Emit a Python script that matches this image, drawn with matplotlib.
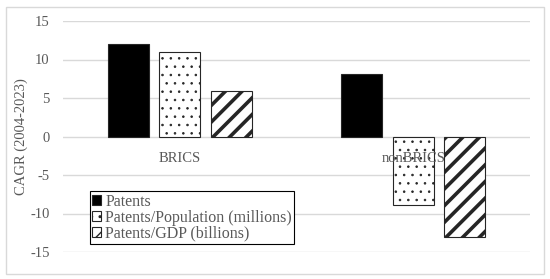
import numpy as np
import matplotlib
matplotlib.use('Agg')
import matplotlib.pyplot as plt
from matplotlib.patches import Rectangle

categories = ['BRICS', 'nonBRICS']
patents = [12.0, 8.1]
patents_pop = [11.0, -8.9]
patents_gdp = [5.9, -13.1]
series_names = ['Patents', 'Patents/Population (millions)', 'Patents/GDP (billions)']

plt.rcParams['font.family'] = ['Liberation Serif', 'DejaVu Serif']
plt.rcParams['axes.unicode_minus'] = False

grey = '#595959'
fig = plt.figure(figsize=(5.5, 2.79), dpi=100)
ax = fig.add_axes([63/550, 1-252/279, 467/550, 231/279])

x = np.arange(len(categories))
w = 0.175
b1 = ax.bar(x - 0.22, patents, w, color='black', edgecolor='#262626', lw=0.8, label=series_names[0])
b2 = ax.bar(x, patents_pop, w, color='white', edgecolor='#262626', lw=0.8, hatch='..', label=series_names[1])
b3 = ax.bar(x + 0.22, patents_gdp, w, color='white', edgecolor='#262626', lw=0.8, hatch='//', label=series_names[2])
for bars, hlw in [(b2, 0.6), (b3, 2.6)]:
    for p in bars:
        if hasattr(p, 'set_hatch_linewidth'):
            p.set_hatch_linewidth(hlw)

ax.set_xlim(-0.5, 1.5)
ax.set_ylim(-15, 15)
ax.set_yticks(np.arange(-15, 16, 5))
ax.set_xticks([])
ax.yaxis.grid(True, color='#d9d9d9', lw=1)
ax.set_axisbelow(True)
ax.tick_params(axis='y', length=0, pad=9.5, labelsize=10.5, labelcolor=grey)
for s in ax.spines.values():
    s.set_visible(False)

for xi, name in zip(x, categories):
    ax.annotate(name, (xi, 0), xytext=(0, -15.5), textcoords='offset points',
                ha='center', va='center', fontsize=10.5, color=grey, zorder=5)

ax.set_ylabel('CAGR (2004-2023)', fontsize=10.5, color=grey, labelpad=1.5)

leg = ax.legend(loc='lower left', bbox_to_anchor=(0.058, 0.035), borderaxespad=0,
                fancybox=False, edgecolor='black', framealpha=1, fontsize=11.5,
                handlelength=0.55, handleheight=0.55, handletextpad=0.25,
                labelspacing=0.0, borderpad=0.15)
leg.get_frame().set_linewidth(0.8)
for t in leg.get_texts():
    t.set_color(grey)

fig.patches.append(Rectangle((6/550, 5/279), 538/550, 267/279, transform=fig.transFigure,
                             fill=False, edgecolor='#d9d9d9', lw=1))

fig.savefig('out.png', dpi=100)
